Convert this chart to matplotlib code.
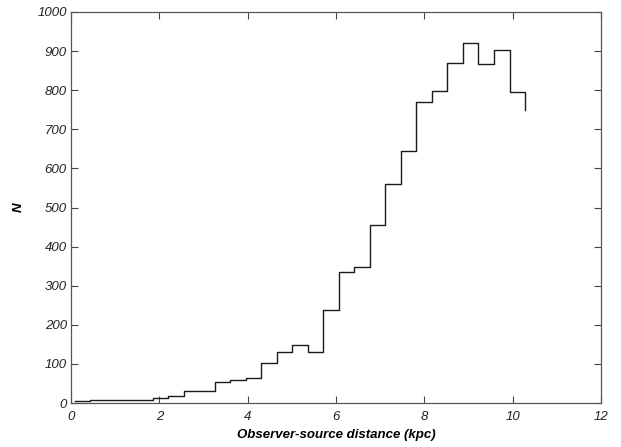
import matplotlib
matplotlib.use("Agg")
import matplotlib.pyplot as plt
import numpy as np

# Data: stair-step histogram (MATLAB stairs style)
x_start = 0.09
bin_width = 0.3514
counts = [5, 8, 8, 8, 8, 13, 17, 31, 31, 53, 60, 63, 103, 130, 149, 131,
          237, 336, 347, 455, 560, 645, 769, 798, 870, 920, 868, 903, 796, 749]
distance = [x_start + bin_width * i for i in range(len(counts))]

x_ticks = [0, 2, 4, 6, 8, 10, 12]
y_ticks = [0, 100, 200, 300, 400, 500, 600, 700, 800, 900, 1000]
x_label = "Observer-source distance (kpc)"
y_label = "N"

plt.rcParams['font.family'] = ['Liberation Sans', 'DejaVu Sans']

fig = plt.figure(figsize=(6.21, 4.47), dpi=100)
ax = fig.add_axes([71 / 621, 1 - 403 / 447, 530 / 621, 391 / 447])

ax.step(distance, counts, where='post', color='#1a1a1a', linewidth=1.0)

ax.set_xlim(0, 12)
ax.set_ylim(0, 1000)
ax.set_xticks(x_ticks)
ax.set_yticks(y_ticks)
ax.set_xticklabels([str(t) for t in x_ticks], fontstyle='italic', fontsize=9.5, color='#222222')
ax.set_yticklabels([str(t) for t in y_ticks], fontstyle='italic', fontsize=9.5, color='#222222')
ax.tick_params(direction='in', length=5, width=0.8, top=True, right=True,
               colors='#444444', labelcolor='#222222')
ax.tick_params(axis='x', pad=6)
ax.tick_params(axis='y', pad=3)
for s in ax.spines.values():
    s.set_color('#555555')
    s.set_linewidth(0.9)

ax.set_xlabel(x_label, fontstyle='italic', fontweight='bold', fontsize=9.5, labelpad=4)
ax.set_ylabel(y_label, fontstyle='italic', fontweight='bold', fontsize=9.5, labelpad=9)

fig.savefig("out.png", dpi=100, facecolor='white')
